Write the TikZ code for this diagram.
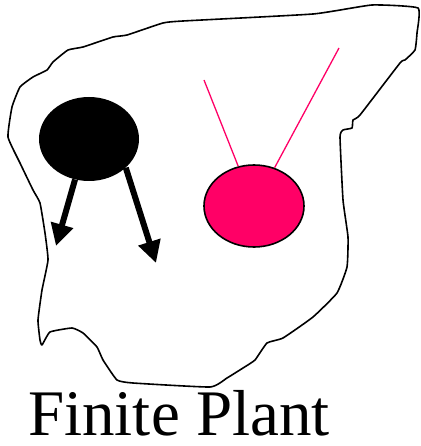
\documentclass[tikz,border=0pt]{standalone}
\usepackage{fontspec}
\setmainfont{Liberation Serif}
\usetikzlibrary{arrows.meta,shapes.geometric}
\definecolor{plantpink}{HTML}{FF0066}

\begin{document}
\begin{tikzpicture}[x=1pt,y=-1pt,>=Stealth,outline/.style={line width=1.6pt, line join=round},blob/.style={ellipse, minimum width=100pt, minimum height=84pt, inner sep=0pt},bigarrow/.style={-{Triangle[length=22pt,width=22pt]}, line width=6pt},wire/.style={plantpink, line width=1.3pt},title/.style={font=\fontsize{65}{70}\selectfont, inner sep=0pt}]
\useasboundingbox (0,0) rectangle (420,446);
\draw[outline] plot[smooth cycle, tension=0.25] coordinates {(418,8) (372,5) (313,14) (183,21) (163,23) (127,35) (113,37) (83,47) (68,50) (53,62) (47,70) (33,77) (20,87) (12,107) (8,137) (20,163) (33,190) (40,203) (45,233) (48,260) (42,290) (38,320) (40,340) (42,345) (50,332) (72,328) (83,333) (97,347) (103,360) (117,380) (133,383) (210,387) (227,378) (243,368) (255,360) (267,343) (283,338) (313,317) (337,293) (347,267) (348,237) (343,200) (340,137) (343,130) (352,128) (353,120) (360,115) (400,63) (405,60) (415,50) (417,33)};
\node[blob, fill=black] (blk) at (89,139) {};
\node[blob, draw, line width=1.6pt, fill=plantpink, minimum height=82pt] (pnk) at (254,206) {};
\coordinate (tipL) at (56,246); \coordinate (tipR) at (156,263);
\coordinate (wireL) at (204,80); \coordinate (wireR) at (339,48);
\draw[bigarrow] (blk.-109) -- (tipL);
\draw[bigarrow] (blk.-38) -- (tipR);
\draw[wire] (wireL) -- (pnk); \draw[wire] (wireR) -- (pnk);
\node[title, anchor=base west] (name) at (28,435) {Finite Plant};
\end{tikzpicture}
\end{document}
